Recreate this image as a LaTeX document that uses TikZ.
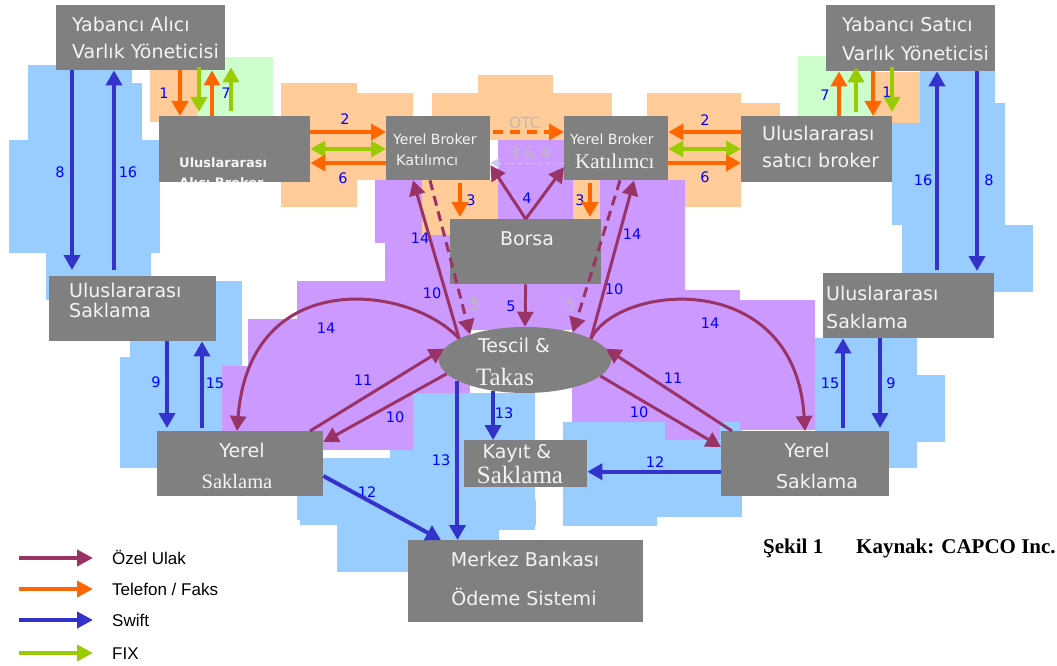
\documentclass[tikz,border=0pt]{standalone}
\usepackage{fontspec}
\setmainfont{DejaVu Sans}
\newfontfamily\serifbox{Liberation Serif}
\newfontfamily\arialf{Liberation Sans}
\usetikzlibrary{arrows.meta,shapes.geometric}

\definecolor{boxgray}{HTML}{808080}
\definecolor{boxtext}{HTML}{F4F4F4}
\definecolor{ulakpurple}{HTML}{993366}
\definecolor{telorange}{HTML}{FF6600}
\definecolor{swiftblue}{HTML}{3333CC}
\definecolor{fixgreen}{HTML}{99CC00}
\definecolor{numblue}{HTML}{0000FF}
\definecolor{palegray}{HTML}{BBBBBB}
\definecolor{faintblue}{HTML}{C8C8F0}
\definecolor{bgblue}{HTML}{99CCFF}
\definecolor{bgorange}{HTML}{FFCC99}
\definecolor{bgpurple}{HTML}{CC99FF}
\definecolor{bggreen}{HTML}{CCFFCC}

\tikzset{
  box/.style={fill=boxgray, inner sep=0pt, anchor=north west},
  txt/.style={text=boxtext, inner sep=0pt, anchor=base west, font=\fontsize{19}{22}\selectfont},
  txtc/.style={txt, anchor=base},
  num/.style={text=numblue, inner sep=0pt, font=\fontsize{14.5}{16}\selectfont},
  pale/.style={num, text=palegray, font=\fontsize{15.5}{17}\selectfont},
  headtip/.style={-{Triangle[width=16pt,length=15pt]}},
  swift/.style={draw=swiftblue, line width=4pt, headtip},
  tel/.style={draw=telorange, line width=4pt, headtip},
  fixg/.style={draw=fixgreen, line width=4pt, headtip},
  fixboth/.style={draw=fixgreen, line width=4pt, {Triangle[width=16pt,length=15pt]}-{Triangle[width=16pt,length=15pt]}},
  ulak/.style={draw=ulakpurple, line width=3pt, headtip},
  ulakdash/.style={ulak, dash pattern=on 10pt off 6pt},
  otc/.style={draw=telorange, line width=3.5pt, dash pattern=on 10pt off 7pt, headtip},
  faint/.style={draw=faintblue, line width=1pt, dash pattern=on 4pt off 3pt, -{Triangle[width=10pt,length=9pt]}},
  legtxt/.style={inner sep=0pt, anchor=base west, font=\arialf\fontsize{17}{20}\selectfont},
  captxt/.style={inner sep=0pt, anchor=base west, font=\serifbox\bfseries\fontsize{21}{23}\selectfont},
}

\begin{document}
\begin{tikzpicture}[x=1pt, y=-1pt]
    \useasboundingbox (0,0) rectangle (1057,666);

    % 1. Renkli arka plan bloklari
    \foreach \a/\b/\c/\d in {28/65/132/140, 132/83/142/140, 9/140/160/253, 46/253/151/300,
        130/281/242/468, 120/357/130/468, 297/458/390/520, 390/450/535/530, 413/393/535/450,
        300/500/536/525, 337/525/499/572, 563/422/742/517, 600/423/665/450, 563/517/657/526,
        920/28/995/103, 892/103/1005/225, 902/225/1033/292, 815/338/917/468, 917/375/945/442}
        \fill[bgblue] (\a,\b) rectangle (\c,\d);
    \foreach \a/\b/\c/\d in {150/57/197/122, 281/83/357/207, 357/93/413/180, 432/93/478/116,
        478/75/553/116, 490/116/564/140, 553/93/612/116, 647/93/741/207, 741/103/780/116,
        873/72/920/123, 422/180/450/235, 450/180/498/219, 573/180/600/219}
        \fill[bgorange] (\a,\b) rectangle (\c,\d);
    \fill[bggreen] (197,57) rectangle (273,117);
    \fill[bggreen] (798,56) rectangle (873,122);
    \foreach \a/\b/\c/\d in {375/180/422/243, 385/235/450/282, 498/140/573/219, 600/180/685/300,
        450/282/600/330, 297/281/470/393, 248/319/297/393, 222/366/413/450, 572/290/740/422,
        665/422/720/440, 740/300/815/430}
        \fill[bgpurple] (\a,\b) rectangle (\c,\d);

    % 2. Kutular
    \node[box, minimum width=169pt, minimum height=65pt] (yaly) at (56,5) {};
    \node[box, minimum width=151pt, minimum height=66pt] (iab) at (159,116) {};
    \node[box, minimum width=104pt, minimum height=64pt] (ylb) at (386,116) {};
    \node[box, minimum width=104pt, minimum height=64pt] (yrb) at (564,116) {};
    \node[box, minimum width=151pt, minimum height=66pt] (isb) at (741,116) {};
    \node[box, minimum width=169pt, minimum height=66pt] (yssy) at (826,5) {};
    \node[box, minimum width=151pt, minimum height=65pt] (borsa) at (450,219) {};
    \node[box, minimum width=167pt, minimum height=65pt] (ius) at (49,276) {};
    \node[box, minimum width=171pt, minimum height=65pt] (irs) at (823,273) {};
    \node[ellipse, fill=boxgray, inner sep=0pt, minimum width=172pt, minimum height=66pt] (tt) at (525,360) {};
    \node[box, minimum width=166pt, minimum height=65pt] (yls) at (157,431) {};
    \node[box, minimum width=168pt, minimum height=65pt] (yrs) at (721,431) {};
    \node[box, minimum width=123pt, minimum height=47pt] (kys) at (464,440) {};
    \node[box, minimum width=235pt, minimum height=82pt] (mbs) at (408,540) {};

    % 3. Kutu yazilari
    \node[txt] (yaly1) at (72,32) {Yabancı Alıcı};
    \node[txt] (yaly2) at (72,59) {Varlık Yöneticisi};
    \node[txt] (yssy1) at (842,32) {Yabancı Satıcı};
    \node[txt] (yssy2) at (842,61) {Varlık Yöneticisi};
    \begin{scope}
        \clip (iab.north west) rectangle (iab.south east);
        \node[txt, font=\bfseries\fontsize{13}{15}\selectfont] (iab1) at (179,167) {Uluslararası};
        \node[txt, font=\bfseries\fontsize{13}{15}\selectfont] (iab2) at (179,187) {Alıcı Broker};
    \end{scope}
    \node[txt, font=\fontsize{14}{16}\selectfont] (ylb1) at (393,144) {Yerel Broker};
    \node[txt, font=\fontsize{14.5}{16}\selectfont] (ylb2) at (396,165) {Katılımcı};
    \node[txt, font=\fontsize{14}{16}\selectfont] (yrb1) at (570,144) {Yerel Broker};
    \node[txt, font=\serifbox\fontsize{21}{24}\selectfont] (yrb2) at (575,168) {Katılımcı};
    \node[txt] (isb1) at (762,140) {Uluslararası};
    \node[txt] (isb2) at (762,167) {satıcı broker};
    \node[txtc] (borsa1) at (527,245) {Borsa};
    \node[txt] (ius1) at (69,297) {Uluslararası};
    \node[txt] (ius2) at (69,317) {Saklama};
    \node[txt] (irs1) at (826,300) {Uluslararası};
    \node[txt] (irs2) at (826,328) {Saklama};
    \node[txtc] (tt1) at (514,352) {Tescil \&};
    \node[txtc, font=\serifbox\fontsize{25}{28}\selectfont] (tt2) at (505,385) {Takas};
    \node[txtc] (yls1) at (242,457) {Yerel};
    \node[txtc, font=\serifbox\fontsize{20.5}{24}\selectfont] (yls2) at (237,488) {Saklama};
    \node[txtc] (yrs1) at (807,457) {Yerel};
    \node[txtc] (yrs2) at (817,488) {Saklama};
    \node[txtc] (kys1) at (517,458) {Kayıt \&};
    \node[txtc, font=\serifbox\fontsize{25}{28}\selectfont] (kys2) at (520,483) {Saklama};
    \node[txtc] (mbs1) at (525,566) {Merkez Bankası};
    \node[txtc] (mbs2) at (524,605) {Ödeme Sistemi};

    % 4. Numaralar
    \foreach \nx/\ny/\nt in {164/93/1, 226/93/7, 60/172/8, 128/172/16, 345/119/2, 343/178/6,
        471/200/3, 527/198/4, 580/200/3, 420/238/14, 632/234/14, 705/120/2, 705/177/6,
        825/95/7, 887/92/1, 923/180/16, 989/180/8, 432/293/10, 511/306/5, 614/289/10,
        326/328/14, 710/323/14, 363/380/11, 673/378/11, 395/417/10, 639/412/10,
        156/382/9, 215/383/15, 830/383/15, 891/383/9, 441/460/13, 504/413/13,
        367/492/12, 655/462/12}
        \node[num] (n\nx-\ny) at (\nx,\ny) {\nt};
    \node[pale] (otc) at (525,123) {OTC};
    \node[pale] (ucdort) at (530,153) {3 \& 4};
    \node[pale] (bes1) at (475,304) {5};
    \node[pale] (bes2) at (571,305) {5};

    % 5. Oklar: ust bolum
    \draw[swift, shorten >=6pt] (72,0 |- yaly.south) -- (72,0 |- ius.north);
    \draw[swift, shorten <=6pt] (114,0 |- ius.north) -- (114,0 |- yaly.south);
    \draw[tel] (180,0 |- yaly.south) -- (180,0 |- iab.north);
    \draw[fixg, shorten <=-3pt, shorten >=4pt] (199,0 |- yaly.south) -- (199,0 |- iab.north);
    \draw[tel] (212,0 |- iab.north) -- (212,0 |- yaly.south);
    \draw[fixg, shorten <=5pt, shorten >=-3pt] (231,0 |- iab.north) -- (231,0 |- yaly.south);
    \draw[tel] (839,0 |- isb.north) -- (839,0 |- yssy.south);
    \draw[fixg, shorten <=4pt, shorten >=-4pt] (856,0 |- isb.north) -- (856,0 |- yssy.south);
    \draw[tel] (873,0 |- yssy.south) -- (873,0 |- isb.north);
    \draw[fixg, shorten <=-4pt, shorten >=4pt] (892,0 |- yssy.south) -- (892,0 |- isb.north);
    \draw[swift, shorten <=3pt] (937,0 |- irs.north) -- (937,0 |- yssy.south);
    \draw[swift, shorten >=2pt] (977,0 |- yssy.south) -- (977,0 |- irs.north);

    % 6. Oklar: brokerlar arasi
    \draw[tel] (iab.east |- 0,132) -- (ylb.west |- 0,132);
    \draw[fixboth] (iab.east |- 0,149) -- (ylb.west |- 0,149);
    \draw[tel] (ylb.west |- 0,163) -- (iab.east |- 0,163);
    \draw[otc, shorten <=3pt] (ylb.east |- 0,132) -- (yrb.west |- 0,132);
    \draw[faint] (yrb.west |- 0,163) -- (ylb.east |- 0,163);
    \draw[tel] (isb.west |- 0,132) -- (yrb.east |- 0,132);
    \draw[fixboth] (isb.west |- 0,149) -- (yrb.east |- 0,149);
    \draw[tel] (yrb.east |- 0,163) -- (isb.west |- 0,163);

    % 7. Oklar: borsa ve takas
    \draw[tel, shorten <=3pt, shorten >=2pt] (460,0 |- ylb.south) -- (460,0 |- borsa.north);
    \draw[tel, shorten <=3pt, shorten >=2pt] (590,0 |- yrb.south) -- (590,0 |- borsa.north);
    \draw[ulak] (borsa.north) -- ([yshift=-17pt]ylb.east);
    \draw[ulak] (borsa.north) -- ([yshift=-19pt]yrb.west);
    \draw[ulak] (borsa.south) -- (tt.north);
    \draw[ulak] (tt.162) -- (413,0 |- ylb.south);
    \draw[ulakdash] (430,0 |- ylb.south) -- (tt.155);
    \draw[ulakdash] (620,0 |- yrb.south) -- (tt.30);
    \draw[ulak] (tt.18) -- (634,0 |- yrb.south);
    \draw[ulak] (tt.162) .. controls (410,285) and (250,265) .. (237,0 |- yls.north);
    \draw[ulak] (tt.18) .. controls (620,283) and (795,268) .. (805,0 |- yrs.north);
    \draw[ulak] (310,0 |- yls.north) -- (tt.172);
    \draw[ulak] (tt.190) -- ([yshift=-11pt]yls.north east);
    \draw[ulak] (732,0 |- yrs.north) -- (tt.8);
    \draw[ulak] (tt.348) -- ([yshift=-16pt]yrs.north west);

    % 8. Oklar: saklama ve odeme
    \draw[swift, shorten >=3pt] (167,0 |- ius.south) -- (167,0 |- yls.north);
    \draw[swift, shorten <=3pt] (202,0 |- yls.north) -- (202,0 |- ius.south);
    \draw[swift, shorten <=3pt] (843,0 |- yrs.north) -- (843,0 |- irs.south);
    \draw[swift, shorten >=3pt] (880,0 |- irs.south) -- (880,0 |- yrs.north);
    \draw[swift] (tt.224) -- (tt.224 |- kys.north);
    \draw[swift] (tt.197) -- (tt.197 |- mbs.north);
    \draw[swift] ([yshift=-45pt]yls.north east) -- (441,0 |- mbs.north);
    \draw[swift] ([yshift=-8pt]yrs.west) -- ([yshift=-8pt]kys.east);

    % 9. Aciklama ve kaynak
    \foreach \ly/\lc/\lt [count=\i] in {558/ulakpurple/{Özel Ulak}, 589/telorange/{Telefon / Faks},
        620/swiftblue/{Swift}, 653/fixgreen/{FIX}} {
        \node[legtxt] (lg\i) at (112,\ly+6) {\lt};
        \draw[draw=\lc, line width=4pt, -{Triangle[width=16pt,length=16pt]}]
            ([xshift=-93pt, yshift=6pt]lg\i.base west) -- ([xshift=-19pt, yshift=6pt]lg\i.base west);
    }
    \node[captxt] (cap1) at (763,553) {Şekil 1};
    \node[captxt] (cap2) at (856,553) {Kaynak: CAPCO Inc.};
\end{tikzpicture}
\end{document}
